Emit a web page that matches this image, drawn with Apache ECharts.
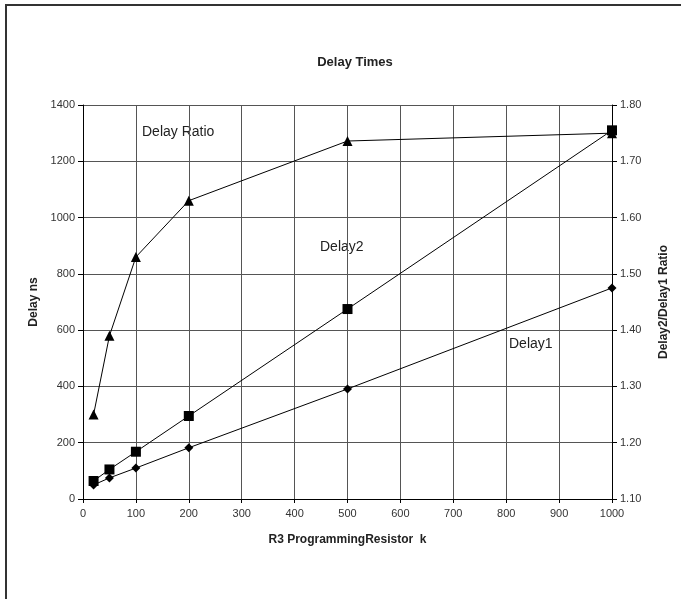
<!DOCTYPE html>
<html>
<head>
<meta charset="utf-8">
<script src="https://cdn.jsdelivr.net/npm/echarts@6/dist/echarts.min.js"></script>
<style>html,body{margin:0;padding:0;background:#fff}#c{width:681px;height:599px}</style>
</head>
<body>
<div id="c"></div>
<script>
const resistor = [20, 50, 100, 200, 500, 1000];
const delay1 = [50, 75, 110, 182, 391, 750];
const delay2 = [64, 105, 168, 295, 675, 1310];
const ratio = [1.25, 1.39, 1.53, 1.63, 1.736, 1.75];

const pairs = (xs, ys) => xs.map((x, i) => [x, ys[i]]);
const FONT = '"Liberation Sans", Arial, sans-serif';

const chart = echarts.init(document.getElementById('c'));
chart.setOption({
  animation: false,
  backgroundColor: '#fff',
  title: {
    text: 'Delay Times', left: 350, top: 51, textAlign: 'center',
    textStyle: { fontFamily: FONT, fontSize: 13, fontWeight: 'bold', color: '#222' }
  },
  grid: { left: 83, right: 69, top: 105, bottom: 100 },
  xAxis: {
    type: 'value', min: 0, max: 1000, interval: 100,
    name: 'R3 ProgrammingResistor  k', nameLocation: 'middle', nameGap: 35,
    nameTextStyle: { fontFamily: FONT, fontSize: 12, fontWeight: 'bold', color: '#222' },
    axisLine: { lineStyle: { color: '#000', width: 1 } },
    axisTick: { show: true, length: 4, lineStyle: { color: '#000' } },
    axisLabel: { fontFamily: FONT, fontSize: 11, color: '#333', margin: 9, formatter: v => String(v) },
    splitLine: { show: true, lineStyle: { color: '#555', width: 1 } }
  },
  yAxis: [{
    type: 'value', min: 0, max: 1400, interval: 200, position: 'left',
    name: 'Delay ns', nameLocation: 'middle', nameGap: 40, nameRotate: 90,
    nameTextStyle: { fontFamily: FONT, fontSize: 12, fontWeight: 'bold', color: '#222' },
    axisLine: { show: true, lineStyle: { color: '#000', width: 1 } },
    axisTick: { show: true, length: 5, lineStyle: { color: '#000' } },
    axisLabel: { fontFamily: FONT, fontSize: 11, color: '#333', margin: 8, formatter: v => String(v) },
    splitLine: { show: true, lineStyle: { color: '#555', width: 1 } }
  }, {
    type: 'value', min: 1.1, max: 1.8, interval: 0.1, position: 'right',
    name: 'Delay2/Delay1 Ratio', nameLocation: 'middle', nameGap: 46, nameRotate: 90,
    nameTextStyle: { fontFamily: FONT, fontSize: 12, fontWeight: 'bold', color: '#222' },
    axisLine: { show: true, lineStyle: { color: '#000', width: 1 } },
    axisTick: { show: true, length: 5, lineStyle: { color: '#000' } },
    axisLabel: { fontFamily: FONT, fontSize: 11, color: '#333', margin: 8,
      formatter: v => v.toFixed(2) },
    splitLine: { show: false }
  }],
  series: [{
    name: 'Delay1', type: 'line', data: pairs(resistor, delay1), yAxisIndex: 0,
    symbol: 'diamond', symbolSize: 9,
    lineStyle: { color: '#000', width: 1 }, itemStyle: { color: '#000' }
  }, {
    name: 'Delay2', type: 'line', data: pairs(resistor, delay2), yAxisIndex: 0,
    symbol: 'rect', symbolSize: 10,
    lineStyle: { color: '#000', width: 1 }, itemStyle: { color: '#000' }
  }, {
    name: 'Delay Ratio', type: 'line', data: pairs(resistor, ratio), yAxisIndex: 1,
    symbol: 'triangle', symbolSize: 10,
    lineStyle: { color: '#000', width: 1 }, itemStyle: { color: '#000' }
  }],
  graphic: [
    { type: 'line', shape: { x1: 5, y1: 5, x2: 681, y2: 5 }, style: { stroke: '#333', lineWidth: 2 } },
    { type: 'line', shape: { x1: 6, y1: 4, x2: 6, y2: 599 }, style: { stroke: '#333', lineWidth: 2 } },
    { type: 'text', left: 142, top: 125, style: { text: 'Delay Ratio', font: '14px ' + FONT, fill: '#222' } },
    { type: 'text', left: 320, top: 240, style: { text: 'Delay2', font: '14px ' + FONT, fill: '#222' } },
    { type: 'text', left: 509, top: 337, style: { text: 'Delay1', font: '14px ' + FONT, fill: '#222' } }
  ]
});
</script>
</body>
</html>
